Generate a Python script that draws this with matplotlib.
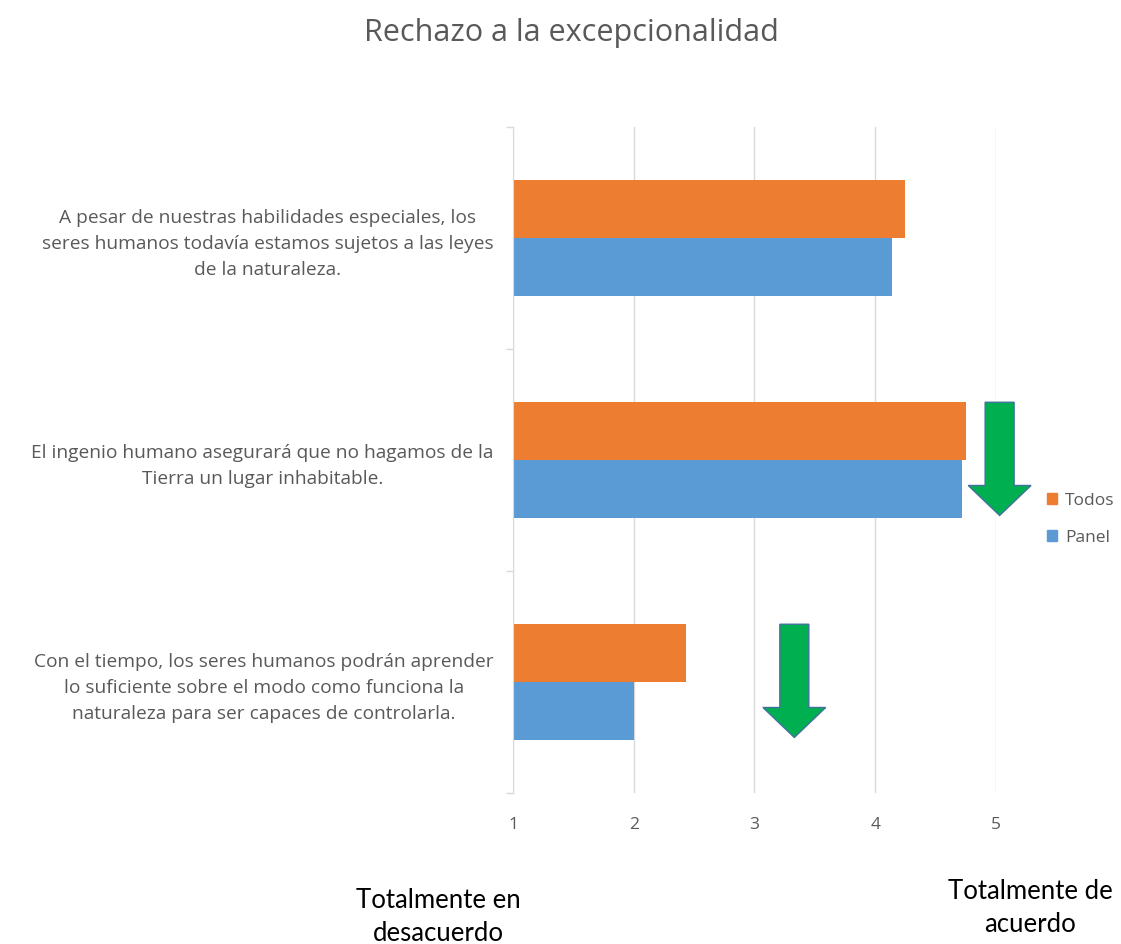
import matplotlib
matplotlib.use("Agg")
import matplotlib.pyplot as plt
from matplotlib.patches import FancyArrow, Patch

plt.rcParams['font.family'] = ['Open Sans', 'DejaVu Sans']

# data
preguntas = [
    "A pesar de nuestras habilidades especiales, los\nseres humanos todavía estamos sujetos a las leyes\nde la naturaleza.",
    "El ingenio humano asegurará que no hagamos de la\nTierra un lugar inhabitable.",
    "Con el tiempo, los seres humanos podrán aprender\nlo suficiente sobre el modo como funciona la\nnaturaleza para ser capaces de controlarla.",
]
todos = [4.25, 4.75, 2.43]
panel = [4.14, 4.72, 2.0]
# green arrows: x position, top and tip (in category units)
flecha_x = [5.03, 3.33]
flecha_y0 = [0.74, 1.74]
flecha_y1 = [1.25, 2.25]

gris = '#595959'
fig = plt.figure(figsize=(11.21, 9.44), dpi=100)
ax = fig.add_axes([0.4576, 0.16, 0.4309, 0.7055])

pos = list(range(len(preguntas)))
h = 0.26
ax.barh([p - h / 2 for p in pos], [t - 1 for t in todos], left=1, height=h,
        color='#ED7D31', zorder=2)
ax.barh([p + h / 2 for p in pos], [v - 1 for v in panel], left=1, height=h,
        color='#5B9BD5', zorder=2)

for x, y0, y1 in zip(flecha_x, flecha_y0, flecha_y1):
    ar = FancyArrow(x, y0, 0, y1 - y0, width=0.24, head_width=0.52,
                    head_length=0.135, length_includes_head=True,
                    facecolor='#00B050', edgecolor='#41719C', linewidth=1,
                    zorder=3, clip_on=False)
    ax.add_patch(ar)

ax.set_xlim(1, 5)
ax.set_ylim(2.5, -0.5)
ax.set_xticks([1, 2, 3, 4, 5])
ax.set_xticklabels(['1', '2', '3', '4', '5'], fontsize=12.5, color=gris)
ax.tick_params(axis='x', length=0, pad=17)
ax.grid(axis='x', color='#D9D9D9', linewidth=1, zorder=0)

ax.set_yticks([-0.5, 0.5, 1.5, 2.5])
ax.set_yticklabels([])
ax.tick_params(axis='y', which='major', length=5, color='#D9D9D9', width=1)
ax.set_yticks(pos, minor=True)
ax.set_yticklabels(preguntas, minor=True, fontsize=13.8, color=gris,
                   multialignment='center', linespacing=1.55)
ax.tick_params(axis='y', which='minor', length=0, pad=14)

for s in ['top', 'right', 'bottom']:
    ax.spines[s].set_visible(False)
ax.spines['left'].set_color('#D9D9D9')

fig.text(0.510, 0.965, 'Rechazo a la excepcionalidad', ha='center', va='center',
         fontsize=22, color=gris)

handles = [Patch(color='#ED7D31', label='Todos'), Patch(color='#5B9BD5', label='Panel')]
fig.legend(handles=handles, loc='center left', bbox_to_anchor=(0.92, 0.45),
           frameon=False, fontsize=12.5, labelcolor=gris, handlelength=0.6,
           handleheight=0.6, handletextpad=0.45, labelspacing=1.2)

fig.text(0.391, 0.0286, 'Totalmente en\ndesacuerdo', ha='center', va='center',
         fontsize=18.5, color='black', family='Lato', linespacing=1.4)
fig.text(0.919, 0.038, 'Totalmente de\nacuerdo', ha='center', va='center',
         fontsize=18.5, color='black', family='Lato', linespacing=1.4)

fig.savefig('out.png', dpi=100)
